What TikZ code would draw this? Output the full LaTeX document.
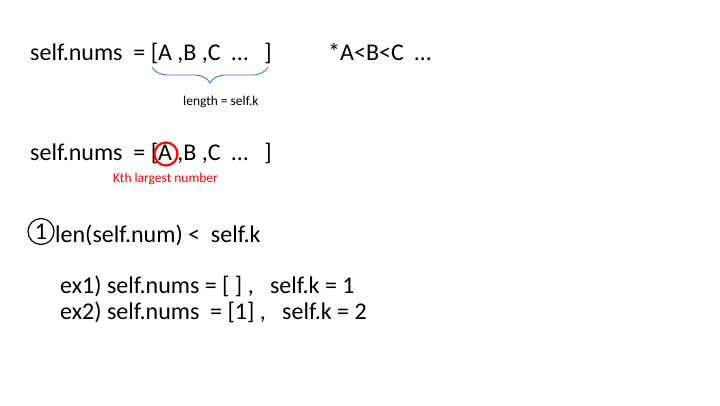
\documentclass[tikz,border=0pt]{standalone}
\usepackage{fontspec}
\setmainfont{Carlito}
\usetikzlibrary{decorations.pathreplacing}
\definecolor{braceblue}{RGB}{68,114,196}

\begin{document}
\begin{tikzpicture}[
    x=1pt,y=-1pt,
    big/.style={anchor=base west,inner sep=0pt,
        font={\fontsize{24}{28}\selectfont}},
    small/.style={anchor=base west,inner sep=0pt,
        font={\fontsize{13.5}{16}\selectfont}},
    note/.style={small,text=red},
    brace/.style={decorate,decoration={brace,mirror,amplitude=16pt},
        draw=braceblue,line width=0.9pt},
    ring/.style={circle,draw=red,line width=2.2pt,minimum size=23pt,inner sep=0pt},
    casenum/.style={circle,draw,line width=1.2pt,minimum size=26pt,inner sep=0pt,
        font={\fontsize{24}{24}\selectfont}},
    ]
    \useasboundingbox (0,0) rectangle (720,405);
    % first line
    \node[big] (nums) at (30,60) {self.nums\ \ = [A ,B ,C\ \ …\ \ \ ]};
    \node[big] (order) at (328,60) {*A<B<C\ \ …};

    % length of the list
    \coordinate (bl) at (152,67);
    \coordinate (br) at (268,67);
    \draw[brace] (bl) -- (br);
    \node[small] (len) at (183,105) {length = self.k};

    % second line
    \node[big] (numsk) at (30,160) {self.nums\ \ = [A ,B ,C\ \ …\ \ \ ]};
    \node[ring] (kth) at (166,154) {};
    \node[note] (kthlabel) at (113,182) {Kth largest number};

    % case 1
    \node[casenum] (one) at (41,231.5) {1};
    \node[big] (case) at (55,242) {len(self.num) <\ \ self.k};
    \node[big] (ex1) at (60,293) {ex1) self.nums = [ ] ,\ \ \ self.k = 1};
    \node[big] (ex2) at (60,319) {ex2) self.nums\ \ = [1] ,\ \ \ self.k = 2};
\end{tikzpicture}
\end{document}
